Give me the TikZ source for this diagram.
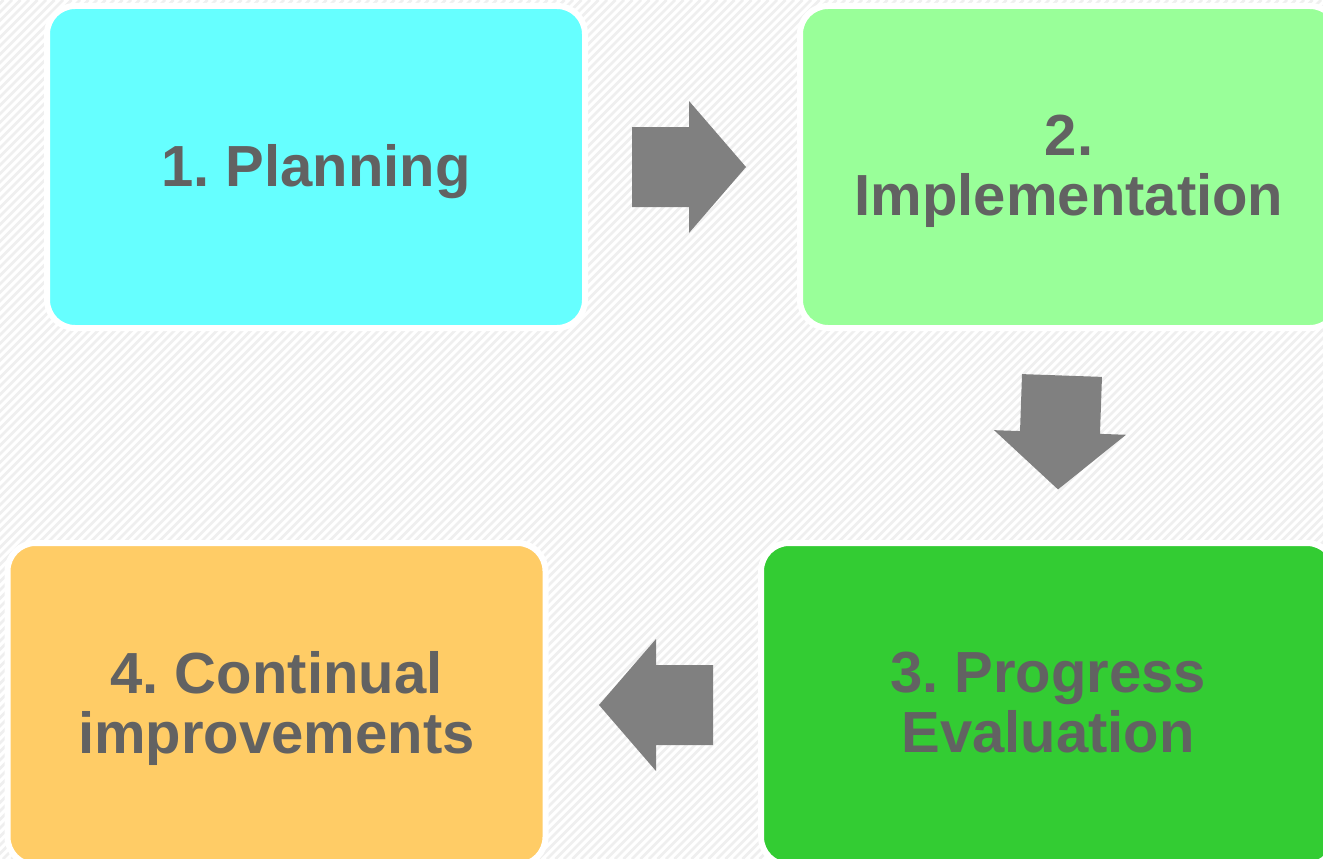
\documentclass[tikz,border=0pt]{standalone}
\usepackage{fontspec}
\setmainfont{Liberation Sans}
\usetikzlibrary{calc,backgrounds}
\frenchspacing
\definecolor{planfill}{HTML}{66FFFF}
\definecolor{implfill}{HTML}{99FF99}
\definecolor{evalfill}{HTML}{33CC33}
\definecolor{contfill}{HTML}{FFCC66}
\definecolor{labelgray}{HTML}{626262}
\definecolor{arrowgray}{HTML}{808080}
\definecolor{stripegray}{HTML}{EFEFEF}
\tikzset{
    stage/.style = {draw=white, line width=6pt, rectangle, rounded corners=28pt,
        minimum width=538pt, minimum height=322pt, align=center, text depth=4pt,
        text=labelgray, font=\fontsize{58}{60}\selectfont\bfseries},
    stripe/.style = {draw, stripegray, line width=2.6pt},
    flowarrow/.style = {fill=arrowgray}
}
\def\blockarrow{%
    -- ++(0,-40) -- ++(57,0) -- ++(0,-26) -- ++(57,66) -- ++(-57,66) -- ++(0,-26) -- ++(-57,0) -- cycle
}

\begin{document}
\begin{tikzpicture}[x=1pt, y=-1pt]
        \useasboundingbox (0,0) rectangle (1323,859);
        \fill[white] (0,0) rectangle (1323,859);
        \begin{scope}
            \clip (0,0) rectangle (1323,859);
            \foreach \a in {-864,-855.5,...,1330}{
                \draw [stripe] (\a,859) -- (\a+859,0);
            }
        \end{scope}
        \node [stage, fill=planfill, name=plan] at (316,167) {1. Planning};
        \node [stage, fill=implfill, name=impl] at (1069,167) {2.\\Implementation};
        \node [stage, fill=evalfill, minimum width=574pt, name=eval] at (1048,704) {3. Progress\\Evaluation};
        \node [stage, fill=contfill, name=cont] at (276.5,704) {4. Continual\\improvements};
        % arrows between the stages
        \coordinate (planimpl) at (632,167);
        \coordinate (impleval) at (1062,375.5);
        \coordinate (evalcont) at (713,705);
        \fill [flowarrow] (planimpl) \blockarrow;
        \begin{scope}[shift={(impleval)}, rotate=-92]
            \fill [flowarrow] (0,0) \blockarrow;
        \end{scope}
        \begin{scope}[shift={(evalcont)}, rotate=180]
            \fill [flowarrow] (0,0) \blockarrow;
        \end{scope}
    \end{tikzpicture}
\end{document}
